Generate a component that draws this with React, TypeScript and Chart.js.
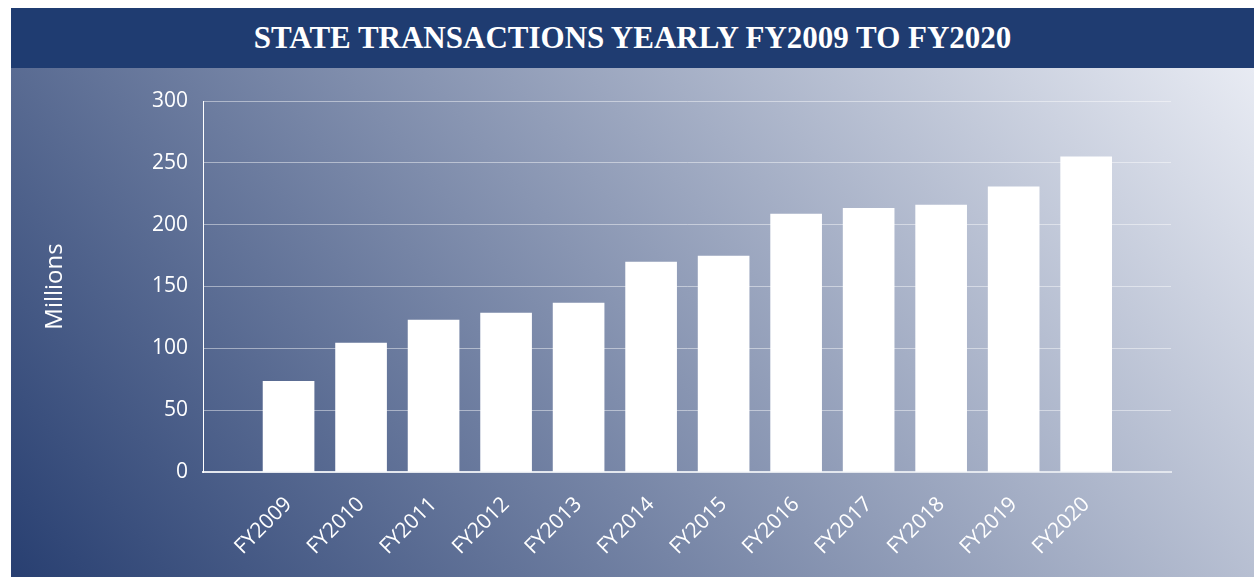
import React, { useEffect, useRef } from "react";
import { Chart, registerables } from "chart.js";

Chart.register(...registerables);

const TITLE = "STATE TRANSACTIONS YEARLY FY2009 TO FY2020";
const Y_TITLE = "Millions";
const categories = [
  "FY2009", "FY2010", "FY2011", "FY2012", "FY2013", "FY2014",
  "FY2015", "FY2016", "FY2017", "FY2018", "FY2019", "FY2020",
];
const transactions = [73.4, 104.2, 122.8, 128.5, 136.6, 169.8, 174.6, 208.5, 213.3, 215.9, 230.5, 254.8];
const yTicks = [0, 50, 100, 150, 200, 250, 300];
const X_MIN = -1.18;
const X_MAX = 12.17;

export default function App() {
  const canvasRef = useRef<HTMLCanvasElement | null>(null);

  useEffect(() => {
    if (!canvasRef.current) return;
    Chart.defaults.font.family = "'Open Sans', sans-serif";
    const chart = new Chart(canvasRef.current, {
      type: "bar",
      data: {
        datasets: [
          {
            data: transactions.map((v, i) => ({ x: i, y: v })),
            backgroundColor: "#ffffff",
            borderWidth: 0,
            barThickness: 51,
          },
        ],
      },
      options: {
        animation: false,
        responsive: false,
        layout: { padding: { top: 33, right: 83, left: 0, bottom: 0 } },
        plugins: {
          legend: { display: false },
          tooltip: { enabled: false },
          title: { display: false },
        },
        scales: {
          x: {
            type: "linear",
            offset: false,
            min: X_MIN,
            max: X_MAX,
            grid: { display: false, drawTicks: false, offset: false },
            border: { display: true, color: "#e3e7ee", width: 2 },
            afterBuildTicks: (scale: any) => {
              scale.ticks = categories.map((_, i) => ({ value: i }));
            },
            afterFit: (scale: any) => {
              scale.height = 105;
            },
            ticks: {
              autoSkip: false,
              minRotation: 45,
              maxRotation: 45,
              color: "#ffffff",
              font: { size: 21 },
              padding: 20,
              callback: (value: any) => categories[value] ?? "",
            },
          },
          y: {
            min: 0,
            max: 300,
            afterBuildTicks: (scale: any) => {
              scale.ticks = yTicks.map((v) => ({ value: v }));
            },
            afterFit: (scale: any) => {
              scale.width = 192;
            },
            grid: { color: "rgba(255,255,255,0.45)", lineWidth: 1, drawTicks: false },
            border: { display: true, color: "#ffffff", width: 1 },
            ticks: {
              color: "#ffffff",
              font: { size: 21 },
              padding: 15,
            },
            title: {
              display: true,
              text: Y_TITLE,
              color: "#ffffff",
              font: { size: 24 },
              padding: { top: 30, bottom: 0 },
            },
          },
        },
      },
    });
    return () => chart.destroy();
  }, []);

  return (
    <div>
      <div
        style={{
          position: "absolute",
          left: 11,
          top: 8,
          width: 1243,
          height: 60,
          background: "#1f3c71",
          color: "#ffffff",
          fontFamily: "'Liberation Serif', serif",
          fontWeight: 700,
          fontSize: 31,
          lineHeight: "60px",
          textAlign: "center",
          whiteSpace: "nowrap",
        }}
      >
        {TITLE}
      </div>
      <div
        style={{
          position: "absolute",
          left: 11,
          top: 68,
          width: 1243,
          height: 509,
          background: "linear-gradient(50deg, #283f71 0%, #e8ebf3 100%)",
        }}
      >
        <canvas ref={canvasRef} width={1243} height={509} style={{ display: "block" }} />
      </div>
    </div>
  );
}
